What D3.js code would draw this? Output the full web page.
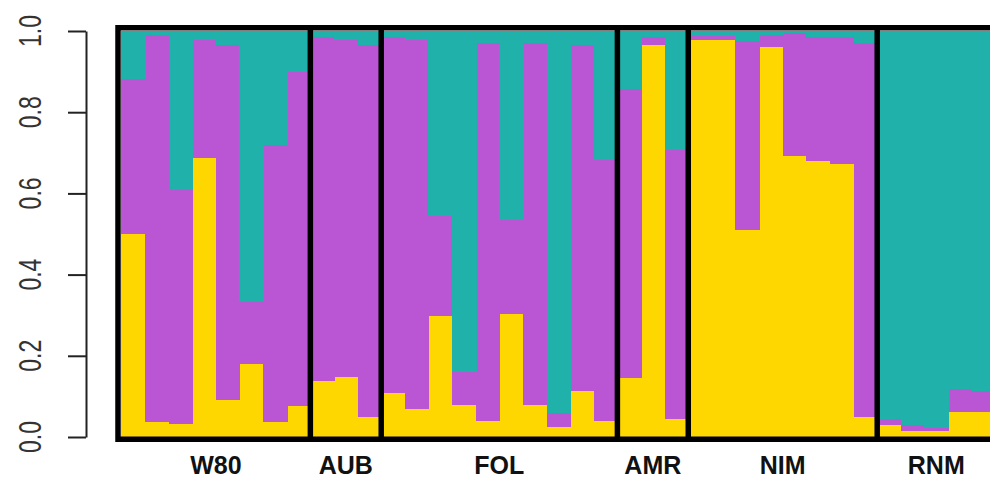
<!DOCTYPE html>
<html>
<head>
<meta charset="utf-8">
<script src="https://cdn.jsdelivr.net/npm/d3@7"></script>
<style>
  body { margin: 0; background: #fff; }
  svg { display: block; font-family: "Liberation Sans", Arial, sans-serif; }
</style>
</head>
<body>
<svg width="990" height="480"></svg>
<script>
// populations and how many individuals (bars) each has
var groups = ["W80", "AUB", "FOL", "AMR", "NIM", "RNM"];
var groupSizes = [8, 3, 10, 3, 8, 5];

// ancestry proportions per individual, bottom to top
var yellowQ = [0.500, 0.036, 0.031, 0.688, 0.091, 0.180, 0.036, 0.076,
               0.139, 0.149, 0.050,
               0.109, 0.070, 0.297, 0.080, 0.040, 0.302, 0.080, 0.025, 0.114, 0.040,
               0.145, 0.965, 0.045,
               0.979, 0.979, 0.510, 0.960, 0.693, 0.679, 0.673, 0.050,
               0.030, 0.016, 0.016, 0.061, 0.061];
var purpleQ = [0.381, 0.953, 0.578, 0.291, 0.874, 0.153, 0.682, 0.824,
               0.845, 0.830, 0.915,
               0.875, 0.909, 0.247, 0.079, 0.930, 0.232, 0.890, 0.035, 0.851, 0.643,
               0.711, 0.019, 0.663,
               0.009, 0.009, 0.465, 0.029, 0.301, 0.305, 0.311, 0.920,
               0.014, 0.014, 0.007, 0.057, 0.052];
var tealQ =   [0.119, 0.011, 0.391, 0.021, 0.035, 0.667, 0.282, 0.100,
               0.016, 0.021, 0.035,
               0.016, 0.021, 0.456, 0.841, 0.030, 0.466, 0.030, 0.940, 0.035, 0.317,
               0.144, 0.016, 0.292,
               0.012, 0.012, 0.025, 0.011, 0.006, 0.016, 0.016, 0.030,
               0.956, 0.970, 0.977, 0.882, 0.887];

var yTicks = [0, 0.2, 0.4, 0.6, 0.8, 1.0];
var colors = ["#FFD700", "#BA55D3", "#20B2AA"];

var rows = yellowQ.map(function(d, i) {
  return {id: i, k1: d, k2: purpleQ[i], k3: tealQ[i]};
});

var svg = d3.select("svg");

var x = d3.scaleBand()
    .domain(rows.map(function(d) { return d.id; }))
    .range([121.4, 995.3])
    .padding(0);

var y = d3.scaleLinear().domain([0, 1]).range([437, 31]);

var stack = d3.stack().keys(["k1", "k2", "k3"]);
var layers = stack(rows);

svg.append("g")
    .attr("shape-rendering", "crispEdges")
  .selectAll("g")
  .data(layers)
  .enter().append("g")
    .attr("fill", function(d, i) { return colors[i]; })
  .selectAll("rect")
  .data(function(d) { return d; })
  .enter().append("rect")
    .attr("x", function(d) { return x(d.data.id); })
    .attr("width", x.bandwidth() + 1)
    .attr("y", function(d) { return y(d[1]); })
    .attr("height", function(d) { return y(d[0]) - y(d[1]); });

// group edges
var edges = [];
var n = 0;
groupSizes.forEach(function(s, i) {
  var start = n;
  n += s;
  edges.push({name: groups[i], x0: x(start), x1: n < rows.length ? x(n) : x(n - 1) + x.bandwidth()});
});

var frame = svg.append("g")
    .attr("stroke", "#000")
    .attr("stroke-width", 5.5)
    .attr("fill", "none");

frame.append("line")
    .attr("x1", 118).attr("x2", 1000)
    .attr("y1", 27.8).attr("y2", 27.8);
frame.append("line")
    .attr("x1", 118).attr("x2", 1000)
    .attr("y1", 439.2).attr("y2", 439.2);
frame.append("line")
    .attr("x1", 118).attr("x2", 118)
    .attr("y1", 25).attr("y2", 442);

frame.selectAll("line.sep")
  .data(edges)
  .enter().append("line")
    .attr("class", "sep")
    .attr("x1", function(d) { return d.x1; })
    .attr("x2", function(d) { return d.x1; })
    .attr("y1", 25).attr("y2", 442);

// group labels
svg.append("g").selectAll("text")
  .data(edges)
  .enter().append("text")
    .attr("x", function(d) { return (d.x0 + d.x1) / 2; })
    .attr("y", 474)
    .attr("text-anchor", "middle")
    .attr("font-weight", "bold")
    .attr("font-size", 25)
    .attr("fill", "#111")
    .text(function(d) { return d.name; });

// y axis, R style
var axis = svg.append("g")
    .attr("transform", "translate(86,0)")
    .call(d3.axisLeft(y).tickValues(yTicks).tickSize(18).tickSizeOuter(0).tickFormat(""));
axis.select(".domain").attr("stroke", "#222").attr("stroke-width", 2);
axis.selectAll(".tick line").attr("stroke", "#222").attr("stroke-width", 2);

svg.append("g").selectAll("text")
  .data(yTicks)
  .enter().append("text")
    .attr("transform", function(d) { return "translate(41," + y(d) + ") scale(1.35,1) rotate(-90)"; })
    .attr("text-anchor", "middle")
    .attr("font-size", 23)
    .attr("fill", "#333")
    .text(function(d) { return d.toFixed(1); });
</script>
</body>
</html>
